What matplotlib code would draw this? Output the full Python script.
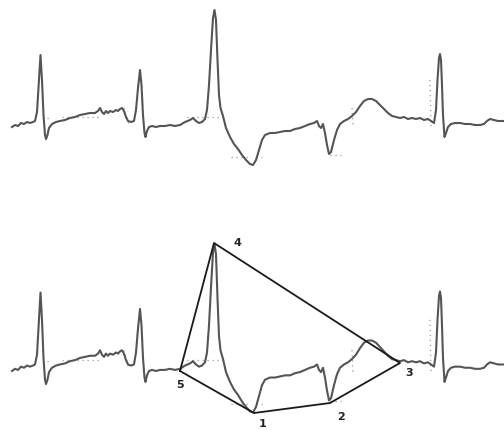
import matplotlib
matplotlib.use("Agg")
import matplotlib.pyplot as plt
import numpy as np

# ECG trace (top strip), horizontal position and vertical value in image units
trace_x = [12, 15, 18, 21, 24, 27, 30, 33, 35, 37, 39, 40.5, 42, 43.5, 45, 46, 47.5, 49, 52, 56,
           60, 65, 70, 75, 80, 85, 90, 95, 98, 100, 102, 104, 106, 108, 110, 113, 116, 118, 120, 122,
           124, 126, 128, 131, 134, 136, 138, 140, 141.5, 143, 144.5, 145.5, 147, 149, 152, 156, 160, 165, 170, 175,
           180, 185, 190, 193, 196, 199, 202, 205, 207, 209, 211, 213, 214.5, 216, 217.5, 219, 220.5, 223, 226, 230,
           234, 238, 242, 246, 250, 253, 256, 259, 262, 265, 270, 275, 280, 285, 290, 295, 300, 305, 310, 314,
           317, 319, 321, 323, 325, 327, 329, 331, 334, 337, 340, 344, 348, 352, 356, 360, 364, 368, 372, 376,
           380, 384, 388, 392, 396, 400, 404, 408, 412, 416, 420, 424, 428, 431, 434, 436, 437.5, 439, 440, 441,
           442, 443, 444.5, 446, 448, 451, 455, 460, 465, 470, 475, 480, 484, 487, 490, 494, 498, 504]
trace_y = [127, 125, 126, 123, 124, 122, 123, 122, 121, 112, 80, 55, 80, 115, 135, 139, 135, 128, 124, 122,
           121, 120, 118, 117, 115, 114, 113, 113, 111, 108, 112, 114, 111, 113, 111, 112, 110, 111, 109, 108,
           111, 117, 121, 122, 121, 110, 88, 70, 85, 115, 133, 137, 131, 127, 126, 127, 126, 126, 125, 126,
           125, 122, 120, 118, 121, 123, 122, 119, 110, 85, 50, 18, 10, 20, 60, 95, 108, 116, 128, 137,
           144, 149, 155, 160, 164, 165, 160, 150, 140, 135, 133, 133, 132, 131, 131, 129, 128, 126, 124, 123,
           121, 126, 128, 124, 133, 145, 154, 152, 140, 130, 124, 121, 119, 116, 112, 106, 101, 99, 99, 101,
           105, 109, 113, 116, 117, 118, 117, 119, 118, 119, 118, 120, 119, 121, 123, 110, 80, 58, 54, 60,
           85, 115, 137, 133, 127, 124, 123, 123, 124, 124, 125, 125, 124, 121, 119, 120, 121, 121]

# lower strip is the same recording with a different gain and offset
lower_gain = 1.089
lower_offset = 232.7

# annotated vertices of the lower strip polygon
vertex_labels = ["1", "2", "3", "4", "5"]
vertex_x = [254, 330, 400, 214, 180]
vertex_y = [413, 403, 363, 243, 371]
polygon_order = ["5", "4", "3", "2", "1", "5"]

# faint dotted measurement marks (top strip units)
marks_x = [[47, 50], [62, 100], [187, 227], [231, 250], [256, 262], [330, 341], [352, 353], [430, 431], [124, 129]]
marks_y = [[118, 118], [117, 117], [117, 117], [157, 157], [157, 157], [155, 155], [108, 128], [80, 128], [108, 125]]

fig = plt.figure(figsize=(5.04, 4.30), dpi=100)
ax = fig.add_axes([0, 0, 1, 1])
ax.set_xlim(0, 504)
ax.set_ylim(430, 0)
ax.axis("off")

tx = np.array(trace_x)
ty = np.array(trace_y)

for g, off in [(1.0, 0.0), (lower_gain, lower_offset)]:
    for mx, my in zip(marks_x, marks_y):
        ax.plot(mx, g * np.array(my) + off, color="#9a9a9a", lw=0.9, ls=(0, (1, 3)), zorder=1)
    ax.plot(tx, g * ty + off, color="#555555", lw=1.5, solid_joinstyle="round", zorder=2)

pos = {k: (x, y) for k, x, y in zip(vertex_labels, vertex_x, vertex_y)}
px = [pos[k][0] for k in polygon_order]
py = [pos[k][1] for k in polygon_order]
ax.plot(px, py, color="#1a1a1a", lw=1.3, zorder=3)

label_offsets = {"1": (9, 11), "2": (11, 14), "3": (9, 10), "4": (23, 0), "5": (0, 14)}
for k in vertex_labels:
    dx, dy = label_offsets[k]
    ax.text(pos[k][0] + dx, pos[k][1] + dy, k, fontsize=8, color="#222222", fontweight="bold",
            ha="center", va="center", family="DejaVu Sans", zorder=4)

fig.savefig("out.png", dpi=100)
